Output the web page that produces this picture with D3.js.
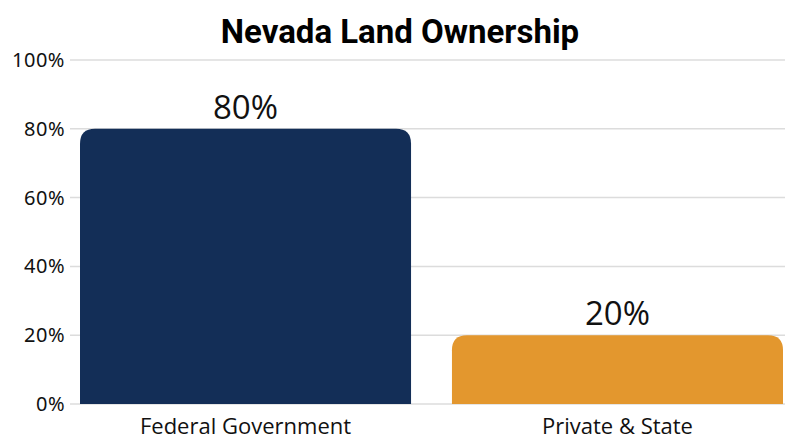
<!DOCTYPE html>
<html lang="en">
<head>
<meta charset="UTF-8">
<title>Nevada Land Ownership</title>
<script src="https://d3js.org/d3.v7.min.js"></script>
<style>
    body { margin: 0; background: #ffffff; }
    .title { font-family: 'Roboto', sans-serif; font-weight: 700; font-size: 33px; fill: #000; }
    .ytick text { font-family: 'Noto Sans', sans-serif; font-size: 20px; letter-spacing: 0.5px; fill: #111; }
    .xtick text { font-family: 'Open Sans', sans-serif; font-size: 22px; fill: #111; }
    .value { font-family: 'Open Sans', sans-serif; font-size: 33px; fill: #111; }
</style>
</head>
<body>
<div id="chart"></div>
<script>
    const categories = ["Federal Government", "Private & State"];
    const shares = [80, 20];
    const barColors = ["#132e57", "#e3972e"];
    const yTicks = [0, 20, 40, 60, 80, 100];

    const width = 800, height = 447;
    const margin = {top: 60, right: 15, bottom: 43, left: 70};

    const svg = d3.select("#chart").append("svg")
        .attr("width", width)
        .attr("height", height);

    const x = d3.scaleBand()
        .domain(categories)
        .range([80, 783])
        .paddingInner(0.11)
        .paddingOuter(0);

    const y = d3.scaleLinear()
        .domain([0, 100])
        .range([height - margin.bottom, margin.top]);

    // grid lines + y labels
    const yg = svg.append("g").attr("class", "ytick")
        .selectAll("g").data(yTicks).enter().append("g")
        .attr("transform", d => `translate(0,${y(d)})`);
    yg.append("line")
        .attr("x1", margin.left)
        .attr("x2", width - margin.right)
        .attr("stroke", "#dcdcdc")
        .attr("stroke-width", 1.5);
    yg.append("text")
        .attr("x", margin.left - 5)
        .attr("dy", "0.35em")
        .attr("text-anchor", "end")
        .text(d => d + "%");

    // bars with rounded top corners
    const r = 15;
    function barPath(x0, w, yTop, yBase) {
        return `M${x0},${yBase}V${yTop + r}Q${x0},${yTop} ${x0 + r},${yTop}` +
            `H${x0 + w - r}Q${x0 + w},${yTop} ${x0 + w},${yTop + r}V${yBase}Z`;
    }
    svg.selectAll(".bar").data(categories).enter().append("path")
        .attr("class", "bar")
        .attr("fill", (d, i) => barColors[i])
        .attr("d", (d, i) => barPath(x(d), x.bandwidth(), y(shares[i]), y(0)));

    svg.selectAll(".value").data(categories).enter().append("text")
        .attr("class", "value")
        .attr("x", d => x(d) + x.bandwidth() / 2)
        .attr("y", (d, i) => y(shares[i]) - 10)
        .attr("text-anchor", "middle")
        .text((d, i) => shares[i] + "%");

    svg.append("g").attr("class", "xtick")
        .selectAll("text").data(categories).enter().append("text")
        .attr("x", d => x(d) + x.bandwidth() / 2)
        .attr("y", y(0) + 30)
        .attr("text-anchor", "middle")
        .text(d => d);

    svg.append("text")
        .attr("class", "title")
        .attr("x", width / 2)
        .attr("y", 43)
        .attr("text-anchor", "middle")
        .text("Nevada Land Ownership");
</script>
</body>
</html>
